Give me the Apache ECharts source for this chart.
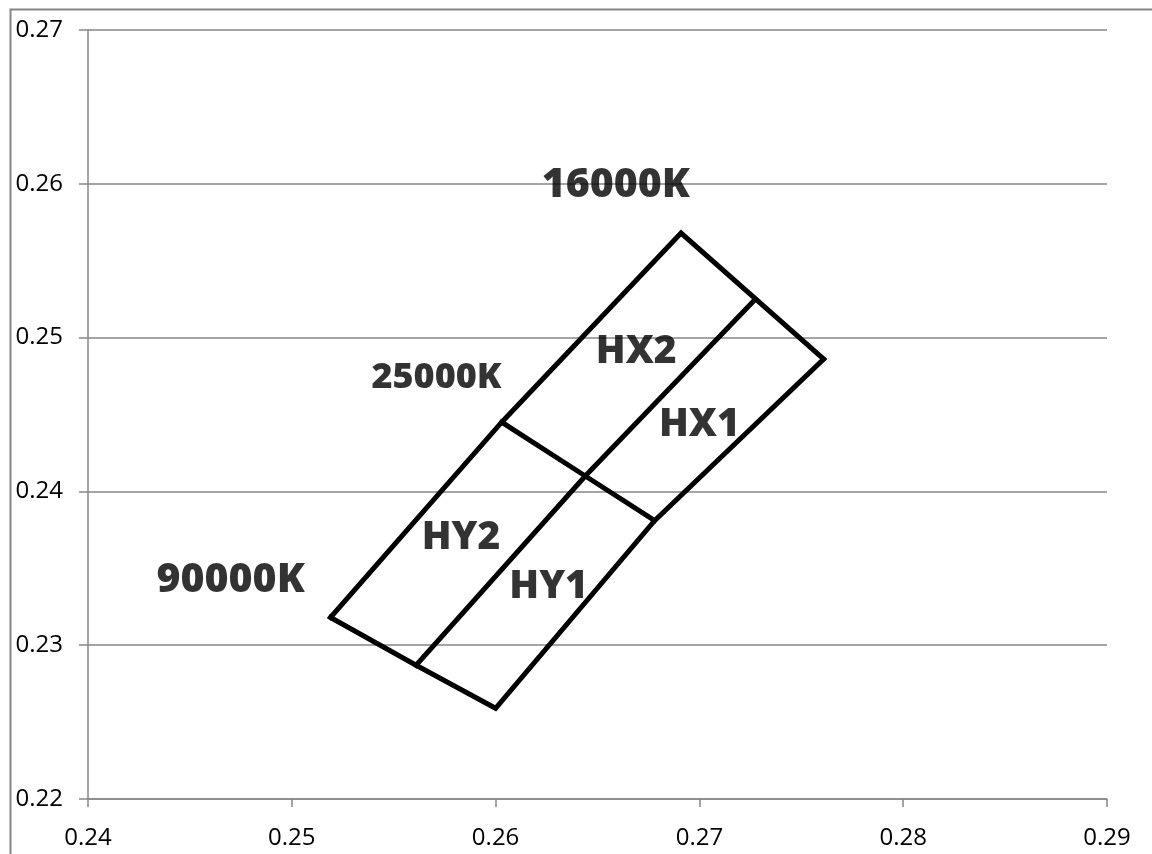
<!DOCTYPE html>
<html>
<head>
<meta charset="utf-8">
<script src="https://cdn.jsdelivr.net/npm/echarts@6/dist/echarts.min.js"></script>
<style>
html,body{margin:0;padding:0;background:#fff;}
#chart{width:1152px;height:854px;}
</style>
</head>
<body>
<div id="chart"></div>
<script>
// ---- data ----
const xTicks = [0.24, 0.25, 0.26, 0.27, 0.28, 0.29];
const yTicks = [0.22, 0.23, 0.24, 0.25, 0.26, 0.27];

const outlineX = [0.2519, 0.2603, 0.2691, 0.2761, 0.2678, 0.2600, 0.2561, 0.2519];
const outlineY = [0.2318, 0.2445, 0.2568, 0.2486, 0.2381, 0.2259, 0.2287, 0.2318];

const midlineX = [0.2561, 0.2644, 0.2726];
const midlineY = [0.2287, 0.2410, 0.2523];

const crosslineX = [0.2603, 0.2644, 0.2678];
const crosslineY = [0.2445, 0.2410, 0.2381];

const labelNames = ['16000K', '25000K', '90000K', 'HX2', 'HX1', 'HY2', 'HY1'];
const labelX = [0.2659, 0.2571, 0.2470, 0.2669, 0.2700, 0.2583, 0.2626];
const labelY = [0.2599, 0.2474, 0.2342, 0.2491, 0.2443, 0.2370, 0.2338];

// ---- styles ----
const labelFontSize = {'16000K': 41, '25000K': 36, '90000K': 41, 'HX2': 39, 'HX1': 39, 'HY2': 39, 'HY1': 39};

function pairs(xs, ys) { return xs.map((x, i) => [x, ys[i]]); }

const lineStyle = { color: '#000', width: 5, join: 'miter', cap: 'square' };
function seg(name, xs, ys) {
  return {
    name: name, type: 'line', data: pairs(xs, ys), symbol: 'none',
    lineStyle: lineStyle, silent: true, z: 3
  };
}

const chart = echarts.init(document.getElementById('chart'), null, { renderer: 'canvas' });
const axisGray = '#868686';
chart.setOption({
  animation: false,
  backgroundColor: '#fff',
  grid: { left: 88, right: 45, top: 30, bottom: 55, containLabel: false },
  graphic: [{
    type: 'rect', left: 8, top: 7, shape: { width: 1300, height: 1000 },
    style: { fill: 'none', stroke: axisGray, lineWidth: 2 }, silent: true, z: -1
  }],
  xAxis: {
    type: 'value', min: xTicks[0], max: xTicks[xTicks.length - 1], interval: 0.01,
    axisLine: { show: true, lineStyle: { color: axisGray, width: 1.5 } },
    axisTick: { show: true, inside: false, length: 8, lineStyle: { color: axisGray, width: 1.5 } },
    splitLine: { show: false },
    axisLabel: {
      margin: 27, color: '#000', fontFamily: 'Open Sans', fontSize: 24,
      formatter: v => v.toFixed(2)
    }
  },
  yAxis: {
    type: 'value', min: yTicks[0], max: yTicks[yTicks.length - 1], interval: 0.01,
    axisLine: { show: true, lineStyle: { color: axisGray, width: 1.5 } },
    axisTick: { show: true, inside: false, length: 9, lineStyle: { color: axisGray, width: 1.5 } },
    splitLine: { show: true, lineStyle: { color: axisGray, width: 1.5 } },
    axisLabel: {
      margin: 25, color: '#000', fontFamily: 'Open Sans', fontSize: 24,
      formatter: v => v.toFixed(2)
    }
  },
  series: [
    seg('outline', outlineX, outlineY),
    seg('midline', midlineX, midlineY),
    seg('crossline', crosslineX, crosslineY),
    {
      name: 'labels', type: 'scatter', symbolSize: 1, z: 4,
      itemStyle: { color: 'rgba(0,0,0,0)' },
      data: labelNames.map((n, i) => ({
        value: [labelX[i], labelY[i]], name: n,
        label: { fontSize: labelFontSize[n] }
      })),
      label: {
        show: true, position: 'inside', formatter: p => p.name,
        color: '#000', fontFamily: 'Open Sans', fontWeight: 800,
        textBorderWidth: 0, textShadowBlur: 0
      },
      silent: true
    }
  ]
});
</script>
</body>
</html>
